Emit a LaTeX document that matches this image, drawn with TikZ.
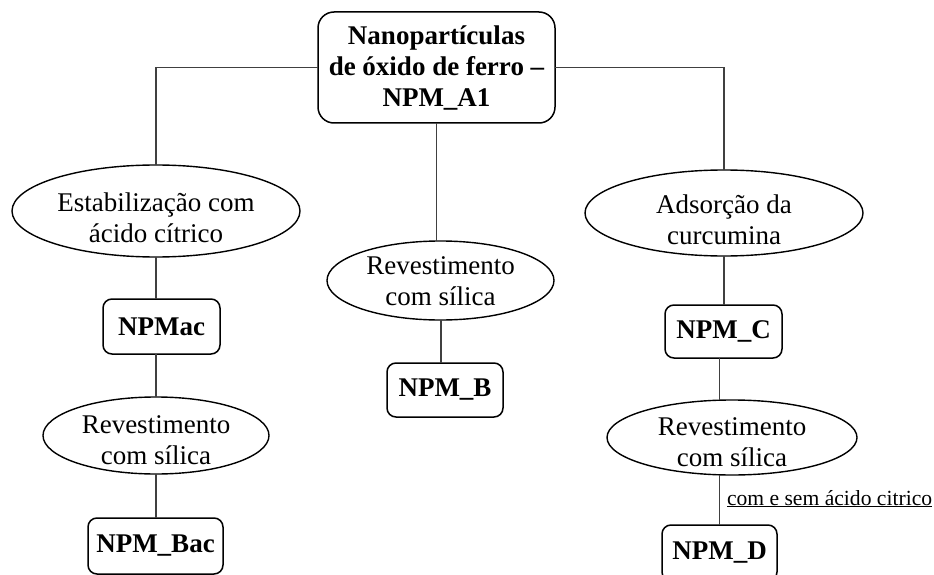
\documentclass[tikz,border=0pt]{standalone}
\usepackage{fontspec}
\setmainfont{Liberation Serif}
\usetikzlibrary{shapes.geometric}
\tikzset{
  every node/.style={inner sep=0pt, outer sep=0pt},
  bx/.style={draw=black, line width=1.5pt, rounded corners=9pt, align=center,
    font=\fontsize{27}{31}\selectfont\bfseries},
  titlebx/.style={bx, rounded corners=16pt},
  ell/.style={draw=black, line width=1.4pt, ellipse, inner sep=0pt},
  ltxt/.style={align=center, font=\fontsize{27}{31}\selectfont, inner sep=0pt},
  conn/.style={draw=black!75, line width=1.3pt},
}
\begin{document}
\begin{tikzpicture}[x=1pt,y=-1pt]
\useasboundingbox (0,0) rectangle (934,575);
% title
\node[titlebx, minimum width=237, minimum height=111] (title) at (436.5,67.5)
  {Nanopartículas\\de óxido de ferro –\\NPM\_A1};
% left column
\node[ell, minimum width=288, minimum height=92,
  label={[ltxt, yshift=-7pt]center:Estabilização com\\ácido cítrico}] (e1) at (156,211) {};
\node[bx, minimum width=117, minimum height=55] (npmac) at (161.5,326.5) {NPMac};
\node[ell, minimum width=226, minimum height=77,
  label={[ltxt, yshift=-5pt]center:Revestimento\\com sílica}] (e4) at (156,435.5) {};
\node[bx, minimum width=135, minimum height=56] (npmbac) at (155.5,546) {NPM\_Bac};
% middle column
\node[ell, minimum width=227, minimum height=79,
  label={[ltxt, yshift=-1pt]center:Revestimento\\com sílica}] (e2) at (440.5,280.5) {};
\node[bx, minimum width=116, minimum height=54] (npmb) at (445,390) {NPM\_B};
% right column
\node[ell, minimum width=278, minimum height=86,
  label={[ltxt, yshift=-7pt]center:Adsorção da\\curcumina}] (e3) at (724,213) {};
\node[bx, minimum width=117, minimum height=53] (npmc) at (723.5,331.5) {NPM\_C};
\node[ell, minimum width=250, minimum height=75,
  label={[ltxt, yshift=-5pt]center:Revestimento\\com sílica}] (e5) at (732,437.5) {};
\node[bx, minimum width=115, minimum height=56] (npmd) at (719.5,553) {NPM\_D};
\node[anchor=base west, font=\fontsize{21.6}{26}\selectfont] (lbl) at (727,505)
  {\underline{com e sem ácido citrico}};
% connectors
\draw[conn] (title.west) -| (e1.north);
\draw[conn] (title.east) -| (e3.north);
\draw[conn] (title.south) -- (title.south |- e2.north);
\draw[conn] (e1.south) -- (e1.south |- npmac.north);
\draw[conn] (e4.north |- npmac.south) -- (e4.north);
\draw[conn] (e4.south) -- (e4.south |- npmbac.north);
\draw[conn] (npmb.north -| 441,0) -- (e2.south -| 441,0);
\draw[conn] (e3.south) -- (e3.south |- npmc.north);
\draw[conn] (npmd.north |- npmc.south) -- (npmd.north |- e5.north);
\draw[conn] (npmd.north |- e5.south) -- (npmd.north);
\end{tikzpicture}
\end{document}
